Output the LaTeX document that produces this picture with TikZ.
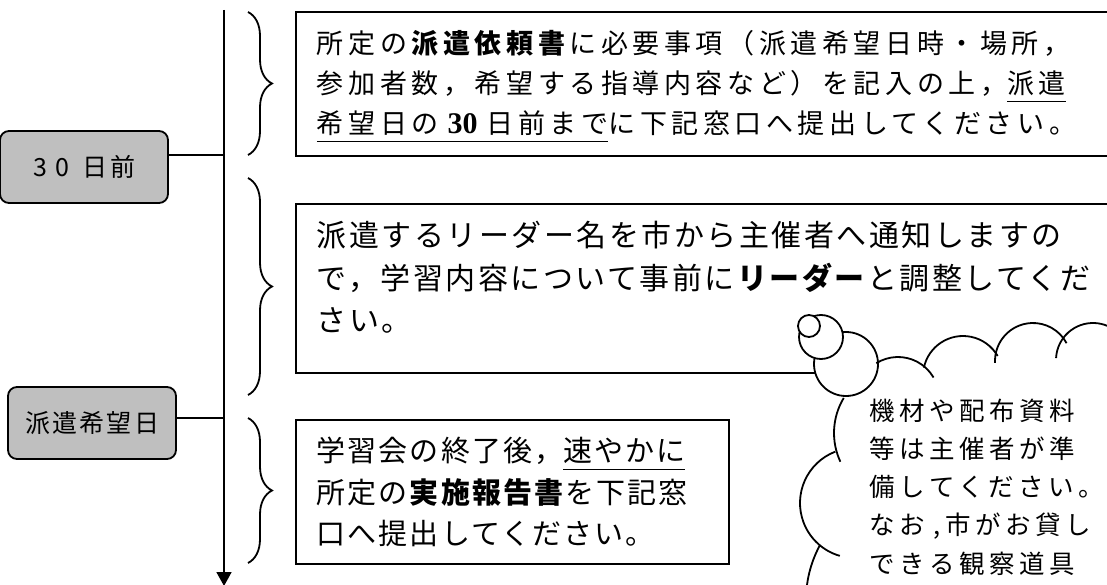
\documentclass[tikz,border=0pt]{standalone}
\usepackage{fontspec}
\setmainfont{Noto Sans CJK JP}
\newfontfamily\numfont{Liberation Serif}
\usetikzlibrary{arrows.meta,decorations.pathreplacing,positioning}
\newcommand\jpsize[3]{\fontsize{#1}{#2}\selectfont\addfontfeatures{LetterSpace=#3}}
\newcommand\ulmark[1]{\leavevmode\setbox0\hbox{#1}\rlap{\rule[-8.5pt]{\wd0}{1.8pt}}\box0}

\tikzset{
    daybox/.style={draw, rounded corners=9pt, fill=gray!50, minimum width=168pt,
    	minimum height=72pt, inner sep=0pt, font=\jpsize{25}{30}{9}},
    stepbox/.style={draw, anchor=north west, inner xsep=21pt, inner ysep=0pt, align=left},
    bracemark/.style={decorate, decoration={brace, amplitude=24pt}},
    lobe/.style={fill=white}
}

\begin{document}
\begin{tikzpicture}[x=1pt, y=-1pt, line width=1.8pt]
    \useasboundingbox (0,0) rectangle (1107,585);
    \coordinate (top) at (224,10);
    \coordinate (bottom) at (224,586);
    \coordinate (due) at (224,155);
    \coordinate (event) at (224,418);
    \draw[-{Triangle[length=14pt, width=15pt]}] (top) -- (bottom);

    \node[daybox] (before) at (84,167) {3\hspace{9pt}0\hspace{13pt}日前};
    \node[daybox] (wishday) at (92,423) {派遣希望日};
    \draw (before.east |- due) -- (due);
    \draw (wishday.east |- event) -- (event);

    \draw[bracemark] (248,12) -- (248,155);
    \draw[bracemark] (248,178) -- (248,395);
    \draw[bracemark] (248,418) -- (248,563);

    \node[stepbox, text width=900pt, text height=42pt, text depth=102pt, font=\jpsize{27}{40}{17}] (apply) at (295,11)
    	{所定の\textbf{派遣依頼書}に必要事項（派遣希望日時・場所，\\
    	参加者数，希望する指導内容など）を記入の上，\ulmark{派遣}\\
    	\ulmark{希望日の {\numfont\bfseries\fontsize{30}{40}\selectfont 30} 日前まで}に下記窓口へ提出してください。};
    \node[stepbox, text width=900pt, text height=43pt, text depth=126pt, font=\jpsize{30}{42.5}{8.3}] (notice) at (295,203)
    	{派遣するリーダー名を市から主催者へ通知しますの\\
    	で，学習内容について事前に\textbf{リーダー}と調整してくだ\\
    	さい。};
    \node[stepbox, text width=391pt, text height=42pt, text depth=102pt, font=\jpsize{29}{41.5}{7}] (report) at (295,419)
    	{学習会の終了後，\ulmark{速やかに}\\
    	所定の\textbf{実施報告書}を下記窓\\
    	口へ提出してください。};

    \fill[white] (898,398) circle (41pt) (963,376) circle (40pt) (1033,361) circle (38pt)
    	(1093,360) circle (37pt) (902,433) circle (68pt) (855,503) circle (55pt)
    	(921,600) circle (115pt) (850,370) rectangle (1120,600);
    \draw[lobe] (846,364) circle (32pt);
    \draw (898,398) ++(122:41pt) arc[start angle=122, end angle=30, radius=41pt];
    \draw (963,376) ++(168:40pt) arc[start angle=168, end angle=30, radius=40pt];
    \draw (1033,361) ++(183:38pt) arc[start angle=183, end angle=28, radius=38pt];
    \draw (1093,360) ++(177:37pt) arc[start angle=177, end angle=10, radius=37pt];
    \draw (902,433) ++(149:68pt) arc[start angle=149, end angle=205, radius=68pt];
    \draw (855,503) ++(111:55pt) arc[start angle=111, end angle=254, radius=55pt];
    \draw (921,600) ++(151.4:115pt) arc[start angle=151.4, end angle=185, radius=115pt];
    \draw[lobe] (821,337) circle (22pt);
    \draw[lobe] (809,326) circle (11pt);

    \node[anchor=base west, align=left, text width=270pt, inner sep=0pt, font=\jpsize{25.5}{38.25}{17.5}] (memo) at (869,420)
    	{機材や配布資料\\
    	等は主催者が準\\
    	備してください。\\
    	なお ,市がお貸し\\
    	できる観察道具};
\end{tikzpicture}
\end{document}
